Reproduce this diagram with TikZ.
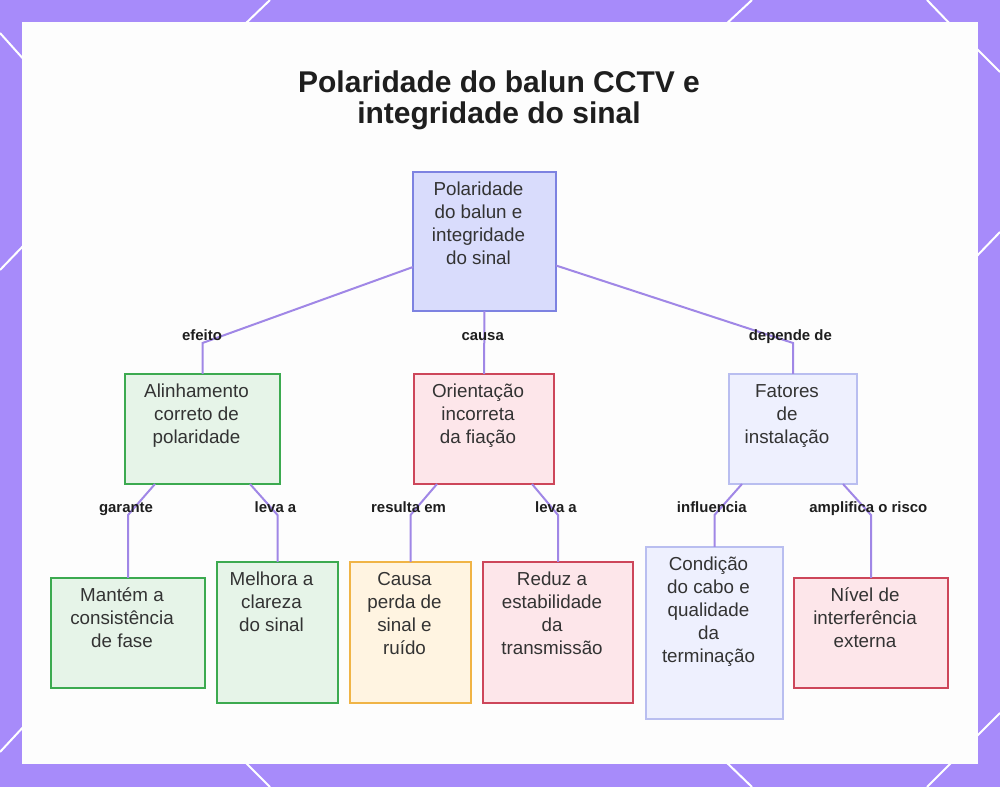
\documentclass[tikz,border=0pt]{standalone}
\usepackage{fontspec}
\setmainfont{Liberation Sans}
\usetikzlibrary{calc}
\definecolor{frame}{RGB}{167,139,250}
\definecolor{paper}{RGB}{253,253,253}
\definecolor{conn}{RGB}{160,135,230}
\definecolor{ink}{RGB}{51,51,51}
\definecolor{labink}{RGB}{30,30,30}
\definecolor{rootfill}{RGB}{217,220,252}
\definecolor{rootdraw}{RGB}{125,130,225}
\definecolor{lavfill}{RGB}{238,240,254}
\definecolor{lavdraw}{RGB}{185,190,240}
\definecolor{grnfill}{RGB}{230,244,232}
\definecolor{grndraw}{RGB}{60,170,80}
\definecolor{pnkfill}{RGB}{253,230,234}
\definecolor{pnkdraw}{RGB}{205,70,90}
\definecolor{orgfill}{RGB}{255,244,225}
\definecolor{orgdraw}{RGB}{240,180,70}
\tikzset{
  boxbase/.style={draw, line width=1.5pt, inner sep=0pt, outer sep=0pt},
  rootbox/.style={boxbase, fill=rootfill, draw=rootdraw},
  lavbox/.style={boxbase, fill=lavfill, draw=lavdraw},
  grnbox/.style={boxbase, fill=grnfill, draw=grndraw},
  pnkbox/.style={boxbase, fill=pnkfill, draw=pnkdraw},
  orgbox/.style={boxbase, fill=orgfill, draw=orgdraw},
  boxtxt/.style={anchor=north, inner sep=0pt, align=center, text=ink,
    font=\fontsize{14.1pt}{17.25pt}\selectfont},
  edgelab/.style={anchor=base, inner sep=0pt, text=labink,
    font=\fontsize{11.2pt}{13pt}\selectfont\bfseries},
  connline/.style={draw=conn, line width=1.5pt},
  deco/.style={draw=white, line width=1.5pt},
}
\newcommand{\st}{\rule{0pt}{0.8em}}
\begin{document}
\begin{tikzpicture}[x=0.75pt,y=-0.75pt]
\useasboundingbox (0,0) rectangle (1000,787);
\fill[frame] (0,0) rectangle (1000,787);
% decorative lines
\draw[deco] (0,33) -- (26,62);
\draw[deco] (243,26) -- (270,0);
\draw[deco] (724,26) -- (752,0);
\draw[deco] (927,0) -- (952,26);
\draw[deco] (974,46) -- (1000,72);
\draw[deco] (0,270) -- (26,243);
\draw[deco] (974,259) -- (1000,232);
\draw[deco] (0,752) -- (26,724);
\draw[deco] (243,760) -- (270,787);
\draw[deco] (724,760) -- (752,787);
\draw[deco] (927,787) -- (954,760);
\draw[deco] (974,739) -- (1000,713);
\fill[paper] (22,22) rectangle (978,764);

% title
\node[anchor=north, inner sep=0pt, align=center, text=labink,
  font=\fontsize{22.5pt}{23.25pt}\selectfont\bfseries] (title) at (499,68)
  {\st Polaridade do balun CCTV e\\integridade do sinal};

% helper y-levels
\coordinate (y1) at (0,343);
\coordinate (l1) at (0,341);
\coordinate (y2) at (0,515);
\coordinate (l2) at (0,513);

% boxes
\node[rootbox, minimum width=143*0.75pt, minimum height=139*0.75pt] (root) at (484.5,241.5) {};
\node[grnbox, minimum width=155*0.75pt, minimum height=110*0.75pt] (al) at (202.5,429) {};
\node[pnkbox, minimum width=140*0.75pt, minimum height=110*0.75pt] (ori) at (484,429) {};
\node[lavbox, minimum width=128*0.75pt, minimum height=110*0.75pt] (fat) at (793,429) {};
\node[grnbox, minimum width=154*0.75pt, minimum height=110*0.75pt] (man) at (128,633) {};
\node[grnbox, minimum width=121*0.75pt, minimum height=141*0.75pt] (mel) at (277.5,632.5) {};
\node[orgbox, minimum width=121*0.75pt, minimum height=141*0.75pt] (cau) at (410.5,632.5) {};
\node[pnkbox, minimum width=150*0.75pt, minimum height=141*0.75pt] (red) at (558,632.5) {};
\node[lavbox, minimum width=137*0.75pt, minimum height=172*0.75pt] (con) at (714.5,633) {};
\node[pnkbox, minimum width=154*0.75pt, minimum height=110*0.75pt] (niv) at (871,633) {};

% box texts
\node[boxtxt] (root-t) at ($(root.north)+(-6,8)$) {\st Polaridade\\do balun e\\integridade\\do sinal};
\node[boxtxt] (al-t) at ($(al.north)+(-6,8)$) {\st Alinhamento\\correto de\\polaridade};
\node[boxtxt] (ori-t) at ($(ori.north)+(-6,8)$) {\st Orientação\\incorreta\\da fiação};
\node[boxtxt] (fat-t) at ($(fat.north)+(-6,8)$) {\st Fatores\\de\\instalação};
\node[boxtxt] (man-t) at ($(man.north)+(-6,8)$) {\st Mantém a\\consistência\\de fase};
\node[boxtxt] (mel-t) at ($(mel.north)+(-6,8)$) {\st Melhora a\\clareza\\do sinal};
\node[boxtxt] (cau-t) at ($(cau.north)+(-6,8)$) {\st Causa\\perda de\\sinal e\\ruído};
\node[boxtxt] (red-t) at ($(red.north)+(-6,8)$) {\st Reduz a\\estabilidade\\da\\transmissão};
\node[boxtxt] (con-t) at ($(con.north)+(-6,8)$) {\st Condição\\do cabo e\\qualidade\\da\\terminação};
\node[boxtxt] (niv-t) at ($(niv.north)+(-6,8)$) {\st Nível de\\interferência\\externa};

% connectors level 1
\draw[connline] ($(root.west)+(0,25.5)$) -- (al.north |- y1) -- (al.north);
\draw[connline] (root.south) -- (ori.north);
\draw[connline] ($(root.east)+(0,24)$) -- (fat.north |- y1) -- (fat.north);
% connectors level 2
\draw[connline] ($(al.south)+(-47.5,0)$) -- (man.north |- y2) -- (man.north);
\draw[connline] ($(al.south)+(47.5,0)$) -- (mel.north |- y2) -- (mel.north);
\draw[connline] ($(ori.south)+(-47,0)$) -- (cau.north |- y2) -- (cau.north);
\draw[connline] ($(ori.south)+(48,0)$) -- (red.north |- y2) -- (red.north);
\draw[connline] ($(fat.south)+(-51,0)$) -- (con.north |- y2) -- (con.north);
\draw[connline] ($(fat.south)+(50,0)$) -- (niv.north |- y2) -- (niv.north);

% edge labels
\node[edgelab] (lab-efeito) at ([xshift=-0.4pt]al.north |- l1) {efeito};
\node[edgelab] (lab-causa) at ([xshift=-1pt]ori.north |- l1) {causa};
\node[edgelab] (lab-depende) at ([xshift=-2pt]fat.north |- l1) {depende de};
\node[edgelab] (lab-garante) at ([xshift=-1.5pt]man.north |- l2) {garante};
\node[edgelab] (lab-leva1) at ([xshift=-1.5pt]mel.north |- l2) {leva a};
\node[edgelab] (lab-resulta) at ([xshift=-1.5pt]cau.north |- l2) {resulta em};
\node[edgelab] (lab-leva2) at ([xshift=-1.5pt]red.north |- l2) {leva a};
\node[edgelab] (lab-influencia) at ([xshift=-2pt]con.north |- l2) {influencia};
\node[edgelab] (lab-amplifica) at ([xshift=-2pt]niv.north |- l2) {amplifica o risco};
\end{tikzpicture}
\end{document}
